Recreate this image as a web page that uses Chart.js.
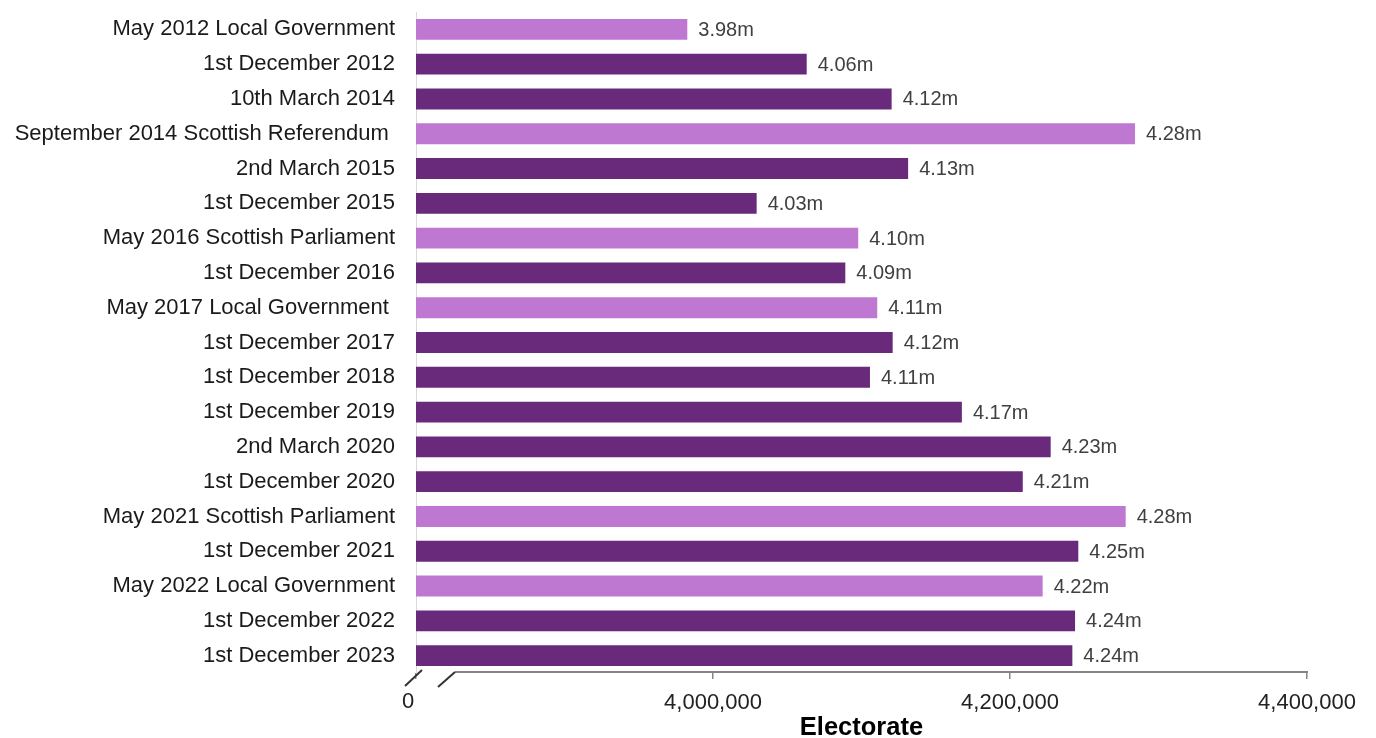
<!DOCTYPE html>
<html>
<head>
<meta charset="utf-8">
<title>Electorate</title>
<script src="https://cdn.jsdelivr.net/npm/chart.js@4.4.0/dist/chart.umd.min.js"></script>
<style>
  html, body { margin: 0; padding: 0; background: #fff; }
  canvas { display: block; }
</style>
</head>
<body>
<canvas id="chart" width="1376" height="738"></canvas>
<script>
// Register dates and the electorate counted at each one
const categories = [
    'May 2012 Local Government',
    '1st December 2012',
    '10th March 2014',
    'September 2014 Scottish Referendum ',
    '2nd March 2015',
    '1st December 2015',
    'May 2016 Scottish Parliament',
    '1st December 2016',
    'May 2017 Local Government ',
    '1st December 2017',
    '1st December 2018',
    '1st December 2019',
    '2nd March 2020',
    '1st December 2020',
    'May 2021 Scottish Parliament',
    '1st December 2021',
    'May 2022 Local Government',
    '1st December 2022',
    '1st December 2023'
];
const electorate = [
    3982700, 4063100, 4120300, 4284200, 4131400, 4029400, 4097800, 4089100, 4110600, 4121000,
    4105700, 4167600, 4227400, 4208600, 4277900, 4246000, 4222000, 4243800, 4242000
];
// true where the figure comes from an election rather than the annual register
const isElection = [
    true, false, false, true, false, false, true, false, true, false,
    false, false, false, false, true, false, true, false, false
];
// The axis is broken: its first tick stands for zero
const axisTicks = [3800000, 4000000, 4200000, 4400000];
const axisTickLabels = ['0', '4,000,000', '4,200,000', '4,400,000'];

const FONT = 'Liberation Sans, Arial, sans-serif';
const LIGHT = '#BF78D2';
const DARK = '#6A2A7C';

// Value labels, the "0" tick and the break in the x axis
const brokenAxis = {
    id: 'brokenAxis',
    afterDatasetsDraw(chart) {
        const ctx = chart.ctx;
        const bars = chart.getDatasetMeta(0).data;
        ctx.save();
        ctx.font = '20px ' + FONT;
        ctx.fillStyle = '#404040';
        ctx.textAlign = 'left';
        ctx.textBaseline = 'middle';
        bars.forEach((bar, i) => {
            const text = (electorate[i] / 1e6).toFixed(2) + 'm';
            ctx.fillText(text, bar.x + 11, bar.y + 1);
        });
        ctx.restore();
    },
    afterDraw(chart) {
        const { ctx, chartArea: { left, right, bottom } } = chart;
        ctx.save();
        // axis line starts after the break
        ctx.strokeStyle = '#858585';
        ctx.lineWidth = 2;
        ctx.beginPath();
        ctx.moveTo(left + 39, bottom - 1);
        ctx.lineTo(right + 1, bottom - 1);
        ctx.stroke();

        // two slanted break marks
        ctx.strokeStyle = '#333';
        ctx.lineWidth = 2;
        ctx.beginPath();
        ctx.moveTo(left - 11, bottom + 13);
        ctx.lineTo(left + 6, bottom - 3);
        ctx.moveTo(left + 22, bottom + 14);
        ctx.lineTo(left + 39, bottom - 1);
        ctx.stroke();

        ctx.font = '22px ' + FONT;
        ctx.fillStyle = '#222';
        ctx.textAlign = 'center';
        ctx.textBaseline = 'middle';
        ctx.fillText(axisTickLabels[0], left - 8, bottom + 29);
        ctx.restore();
    }
};

const ctx = document.getElementById('chart').getContext('2d');
const chart = new Chart(ctx, {
    type: 'bar',
    data: {
        labels: categories,
        datasets: [{
            data: electorate,
            backgroundColor: isElection.map(e => e ? LIGHT : DARK),
            borderWidth: 0,
            barPercentage: 0.6,
            categoryPercentage: 1
        }]
    },
    options: {
        indexAxis: 'y',
        responsive: false,
        animation: false,
        layout: { padding: { top: 12, right: 69, bottom: 0, left: 0 } },
        plugins: {
            legend: { display: false },
            tooltip: { enabled: false }
        },
        scales: {
            x: {
                type: 'linear',
                min: axisTicks[0],
                max: axisTicks[axisTicks.length - 1],
                afterBuildTicks: scale => {
                    scale.ticks = axisTicks.map(v => ({ value: v }));
                },
                afterFit: scale => {
                    scale.height = 65;
                    scale.paddingLeft = 0;
                    scale.paddingRight = 0;
                },
                border: { display: false },
                grid: {
                    drawOnChartArea: false,
                    drawTicks: true,
                    tickLength: 6,
                    color: '#858585',
                    lineWidth: 1.5
                },
                ticks: {
                    padding: 11,
                    autoSkip: false,
                    maxRotation: 0,
                    color: '#222',
                    font: { family: FONT, size: 22 },
                    callback: (value, index) => index === 0 ? '' : axisTickLabels[index]
                },
                title: {
                    display: true,
                    text: 'Electorate',
                    color: '#000',
                    font: { family: FONT, size: 25.5, weight: 'bold', lineHeight: 1 },
                    padding: { top: 0, bottom: -3 }
                }
            },
            y: {
                afterFit: scale => {
                    scale.width = 416;
                    scale.paddingTop = 0;
                    scale.paddingBottom = 0;
                },
                grid: { display: false, drawTicks: false },
                border: { display: true, color: '#d9d9d9', width: 1 },
                ticks: {
                    padding: 21,
                    autoSkip: false,
                    color: '#1a1a1a',
                    font: { family: FONT, size: 22 }
                }
            }
        }
    },
    plugins: [brokenAxis]
});
</script>
</body>
</html>
